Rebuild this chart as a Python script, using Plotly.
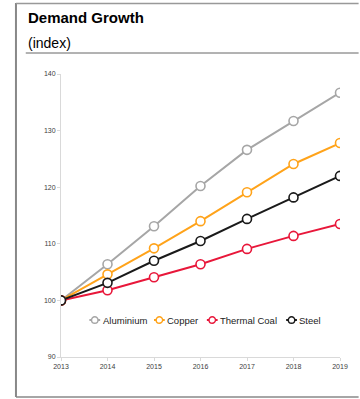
import plotly.graph_objects as go

years = [2013, 2014, 2015, 2016, 2017, 2018, 2019]
aluminium = [100, 106.4, 113.1, 120.2, 126.6, 131.7, 136.7]
copper = [100, 104.6, 109.2, 114.0, 119.1, 124.1, 127.8]
thermal_coal = [100, 101.8, 104.1, 106.4, 109.1, 111.4, 113.5]
steel = [100, 103.1, 107.0, 110.5, 114.4, 118.2, 122.0]

series = [
    ("Aluminium", aluminium, "#A6A6A6"),
    ("Copper", copper, "#FFA31A"),
    ("Thermal Coal", thermal_coal, "#E8173A"),
    ("Steel", steel, "#1A1A1A"),
]

fig = go.Figure()
for name, vals, col in series:
    fig.add_trace(go.Scatter(
        x=years, y=vals, name=name, mode="lines+markers", showlegend=False,
        line=dict(color=col, width=2),
        marker=dict(symbol="circle", size=9, color="white",
                    line=dict(color=col, width=1.6)),
    ))

L, R, T, B = 61, 14, 74, 42
W, H = 360, 399
pw, ph = W - L - R, H - T - B

def px(x):
    return (x - L) / pw

def py(y):
    return (H - B - y) / ph

shapes = [
    dict(type="line", xref="paper", yref="paper", x0=px(15), x1=px(15), y0=py(3), y1=py(397),
         line=dict(color="#888888", width=2)),
    dict(type="line", xref="paper", yref="paper", x0=px(15), x1=px(365), y0=py(3.5), y1=py(3.5),
         line=dict(color="#999999", width=1.5)),
    dict(type="line", xref="paper", yref="paper", x0=px(15), x1=px(365), y0=py(397), y1=py(397),
         line=dict(color="#888888", width=1.5)),
    dict(type="line", xref="paper", yref="paper", x0=px(25), x1=px(365), y0=py(53), y1=py(53),
         line=dict(color="#666666", width=1)),
]
annotations = [
    dict(text="<b>Demand Growth</b>", xref="paper", yref="paper", x=px(25), y=py(18),
         xanchor="left", yanchor="middle", showarrow=False,
         font=dict(size=15, color="#000000")),
    dict(text="(index)", xref="paper", yref="paper", x=px(25), y=py(43),
         xanchor="left", yanchor="middle", showarrow=False,
         font=dict(size=14, color="#000000")),
]

# custom legend (Excel-style short keys)
legend_start = [90, 156, 210, 291]
ly = 320
for (name, _, col), x0 in zip(series, legend_start):
    shapes.append(dict(type="line", xref="paper", yref="paper", x0=px(x0), x1=px(x0 + 11),
                       y0=py(ly), y1=py(ly), line=dict(color=col, width=2)))
    cx, r = x0 + 5.5, 3.3
    shapes.append(dict(type="circle", xref="paper", yref="paper", x0=px(cx - r), x1=px(cx + r),
                       y0=py(ly - r), y1=py(ly + r), fillcolor="white",
                       line=dict(color=col, width=1.4)))
    annotations.append(dict(text=name, xref="paper", yref="paper", x=px(x0 + 11.5), y=py(ly),
                            xanchor="left", yanchor="middle", showarrow=False,
                            font=dict(size=9.5, color="#222222")))

fig.update_layout(
    width=W, height=H,
    margin=dict(l=L, r=R, t=T, b=B),
    paper_bgcolor="white", plot_bgcolor="white",
    font=dict(family="Liberation Sans, Arial, sans-serif", color="#333333"),
    showlegend=False,
    xaxis=dict(range=[2013, 2019], tickvals=years, showgrid=False, zeroline=False,
               showline=True, linecolor="#D9D9D9", linewidth=1,
               ticks="outside", ticklen=3, tickcolor="#D9D9D9",
               tickfont=dict(size=7, color="#404040")),
    yaxis=dict(range=[90, 140], tickvals=[90, 100, 110, 120, 130, 140], showgrid=False,
               zeroline=False, showline=True, linecolor="#D9D9D9", linewidth=1,
               ticks="outside", ticklen=3, tickcolor="#D9D9D9",
               tickfont=dict(size=7, color="#404040")),
    shapes=shapes,
    annotations=annotations,
)

fig.write_html("out.html")
